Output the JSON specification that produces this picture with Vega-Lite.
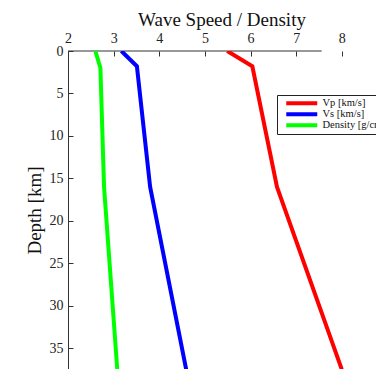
{
  "$schema": "https://vega.github.io/schema/vega-lite/v6.json",
  "autosize": "none",
  "padding": {"left": 68, "top": 51, "right": 0, "bottom": 0},
  "width": 308,
  "height": 318,
  "background": "white",
  "config": {
    "view": {"stroke": null},
    "font": "Liberation Serif",
    "axis": {"labelFont": "Liberation Serif", "titleFont": "Liberation Serif", "labelColor": "#222", "titleColor": "#111", "domainColor": "#333", "tickColor": "#333", "grid": false}
  },
  "title": {"text": "Wave Speed / Density", "font": "Liberation Serif", "fontSize": 19, "fontWeight": "normal", "color": "#111", "anchor": "middle", "offset": 1},
  "layer": [
    {
      "data": {"values": [{"x": 2, "x2": 7.56, "y": 0}]},
      "mark": {"type": "rule", "color": "#333", "strokeWidth": 1},
      "encoding": {
        "x": {"field": "x", "type": "quantitative", "scale": {"domain": [2, 8.75], "nice": false, "zero": false}},
        "x2": {"field": "x2"},
        "y": {"field": "y", "type": "quantitative"}
      }
    },
    {
      "data": {"values": [
        {"series": "Vp [km/s]", "depth": 0, "value": 5.49},
        {"series": "Vp [km/s]", "depth": 1.8, "value": 6.04},
        {"series": "Vp [km/s]", "depth": 16, "value": 6.58},
        {"series": "Vp [km/s]", "depth": 37.5, "value": 8.0},
        {"series": "Vs [km/s]", "depth": 0, "value": 3.17},
        {"series": "Vs [km/s]", "depth": 1.8, "value": 3.51},
        {"series": "Vs [km/s]", "depth": 16, "value": 3.8},
        {"series": "Vs [km/s]", "depth": 37.5, "value": 4.59},
        {"series": "Density [g/cm³]", "depth": 0, "value": 2.6},
        {"series": "Density [g/cm³]", "depth": 2, "value": 2.71},
        {"series": "Density [g/cm³]", "depth": 16, "value": 2.79},
        {"series": "Density [g/cm³]", "depth": 37.5, "value": 3.08}
      ]},
      "mark": {"type": "line", "strokeWidth": 4, "clip": true},
      "encoding": {
        "x": {"field": "value", "type": "quantitative",
          "scale": {"domain": [2, 8.75], "nice": false, "zero": false},
          "axis": {"orient": "top", "title": null, "values": [2, 3, 4, 5, 6, 7, 8], "domain": false, "tickSize": -5, "labelFontSize": 14, "labelPadding": 11, "labelFlush": false}},
        "y": {"field": "depth", "type": "quantitative",
          "scale": {"domain": [0, 37.45], "nice": false, "reverse": true},
          "axis": {"title": "Depth [km]", "titleFontSize": 19, "titleFontWeight": "normal", "titlePadding": 5, "values": [0, 5, 10, 15, 20, 25, 30, 35], "tickSize": -5, "labelFontSize": 14, "labelPadding": 10}},
        "order": {"field": "depth", "type": "quantitative"},
        "color": {"field": "series", "type": "nominal",
          "scale": {"domain": ["Vp [km/s]", "Vs [km/s]", "Density [g/cm³]"], "range": ["#ff0000", "#0000ff", "#00ff00"]},
          "legend": {"title": null, "orient": "none", "legendX": 209, "legendY": 44, "symbolType": "M-15.5,0H15.5", "symbolSize": 4, "symbolStrokeWidth": 4, "symbolOffset": 16.5, "labelFont": "Liberation Serif", "labelFontSize": 10.5, "labelColor": "#111", "labelOffset": 15.5, "rowPadding": 0, "clipHeight": 10.5, "padding": 3, "strokeColor": "#222", "fillColor": "white", "labelLimit": 200}}
      }
    }
  ]
}
